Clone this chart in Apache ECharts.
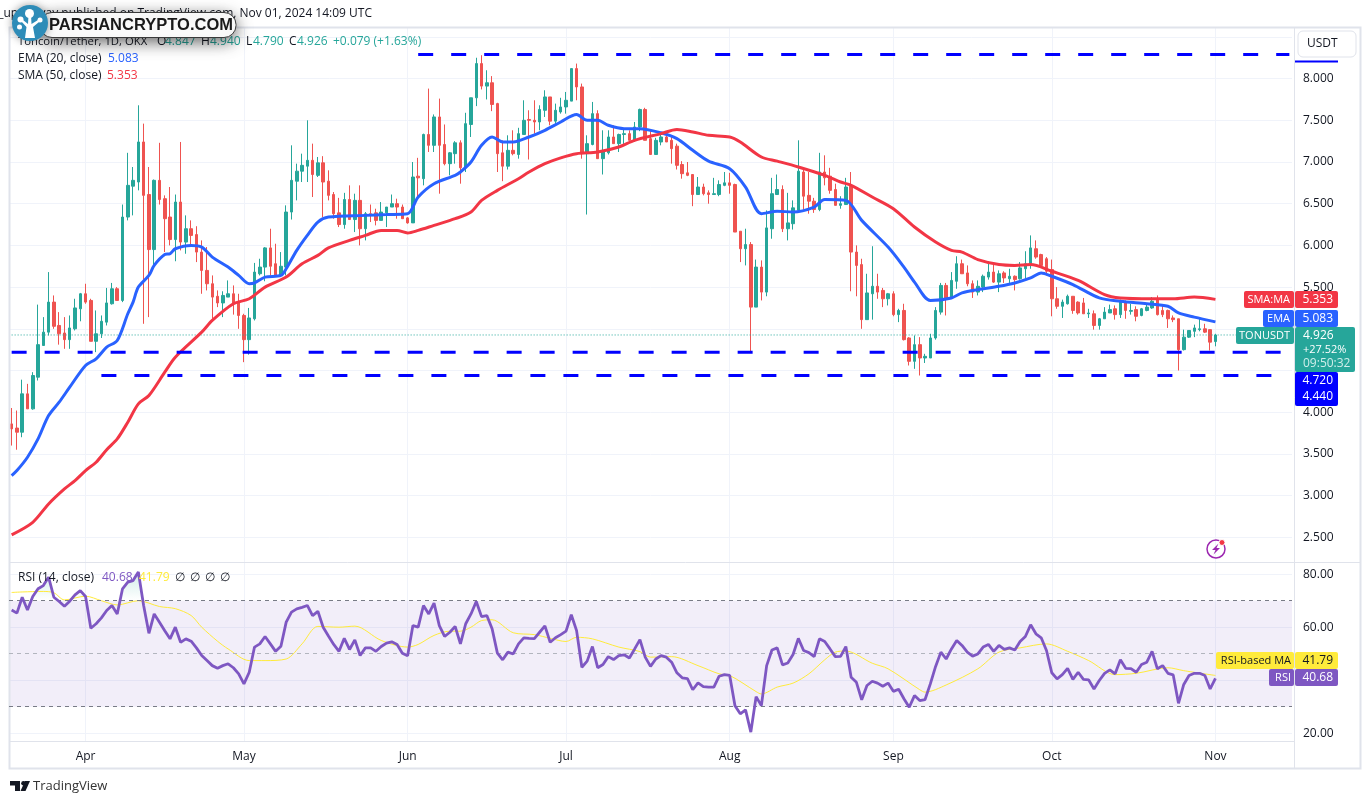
<!DOCTYPE html>
<html>
<head>
<meta charset="utf-8">
<title>TONUSDT</title>
<script src="https://cdn.jsdelivr.net/npm/echarts@6/dist/echarts.min.js"></script>
<style>
html,body{margin:0;padding:0;background:#fff;}
#main{width:1370px;height:804px;}
</style>
</head>
<body>
<div id="main"></div>
<script>
// daily candles, Mar 18 -> Nov 1 2024
var opens = [3.86,3.81,3.76,4.22,4.04,4.42,4.80,4.96,5.32,5.04,
4.95,4.87,5.00,5.24,5.42,5.34,4.85,4.94,5.08,5.30,
5.48,5.34,6.34,6.71,6.76,7.24,6.61,5.95,6.78,6.56,
6.34,6.07,6.52,6.04,6.20,6.13,5.92,5.70,5.54,5.39,
5.31,5.38,5.42,5.32,5.16,4.87,5.12,5.66,5.74,5.97,
5.78,5.64,5.74,6.40,6.77,6.89,6.95,7.02,6.84,6.99,
6.77,6.61,6.39,6.25,6.55,6.31,6.54,6.20,6.38,6.39,
6.30,6.39,6.46,6.50,6.46,6.33,6.27,6.83,6.80,7.33,
7.20,7.54,7.21,6.98,7.10,7.23,6.93,7.45,7.77,8.18,
7.91,7.95,7.70,7.11,6.95,7.14,7.09,7.33,7.51,7.50,
7.48,7.62,7.78,7.49,7.60,7.66,7.73,8.12,7.90,7.10,
7.21,7.58,7.04,7.11,7.30,7.22,7.33,7.34,7.26,7.42,
7.63,7.28,7.09,7.24,7.30,7.26,7.19,6.97,6.87,6.85,
6.61,6.70,6.63,6.61,6.61,6.72,6.75,6.73,6.17,5.96,
6.01,5.26,5.74,5.44,6.20,6.61,6.67,6.20,6.26,6.42,
6.88,6.60,6.53,6.43,6.88,6.83,6.67,6.48,6.49,6.71,
5.92,5.77,5.11,5.42,5.51,5.46,5.36,5.42,5.17,5.22,
4.89,4.61,4.81,4.65,4.65,4.89,5.20,5.52,5.37,5.57,
5.78,5.67,5.54,5.44,5.50,5.62,5.68,5.56,5.67,5.60,
5.63,5.60,5.72,5.77,5.96,5.89,5.84,5.71,5.36,5.27,
5.30,5.39,5.32,5.31,5.18,5.18,5.04,5.12,5.19,5.24,
5.17,5.32,5.21,5.23,5.16,5.22,5.25,5.36,5.22,5.22,
5.13,5.12,4.75,4.90,4.97,4.99,5.00,4.99,4.847];
var highs = [4.05,4.02,4.39,4.34,4.48,5.29,5.14,5.68,5.40,5.20,
5.14,5.16,5.36,5.43,5.54,5.36,5.22,5.16,5.49,5.55,
5.50,6.49,7.11,6.94,7.68,7.46,6.94,6.79,7.23,6.60,
6.70,6.61,7.24,6.36,6.30,6.23,6.06,5.98,5.64,5.46,
5.45,5.58,5.52,5.42,5.18,5.25,5.79,5.84,5.98,6.20,
6.02,5.92,6.48,7.20,6.98,7.10,7.50,7.22,7.06,7.07,
6.90,6.64,6.57,6.63,6.72,6.62,6.72,6.40,6.49,6.44,
6.52,6.46,6.61,6.56,6.49,6.34,7.00,7.05,7.34,7.88,
7.57,7.76,7.45,7.12,7.25,7.26,7.59,7.77,8.25,8.28,
8.10,8.03,7.71,7.26,7.32,7.38,7.41,7.74,7.62,7.74,
7.68,7.86,7.78,7.70,7.77,7.84,8.12,8.18,7.94,7.32,
7.72,7.62,7.38,7.38,7.44,7.34,7.40,7.38,7.48,7.64,
7.65,7.38,7.29,7.36,7.36,7.30,7.22,7.01,7.00,6.85,
6.82,6.74,6.66,6.81,6.78,6.88,6.87,6.74,6.17,6.20,
6.04,5.83,5.82,6.42,6.81,6.85,6.72,6.63,6.54,7.26,
6.93,6.88,6.57,7.11,7.08,6.93,6.74,6.59,6.81,6.88,
6.00,5.84,5.66,5.99,5.66,5.49,5.43,5.45,5.24,5.30,
4.90,4.92,4.90,4.70,4.94,5.26,5.55,5.55,5.68,5.87,
5.83,5.76,5.58,5.58,5.65,5.81,5.79,5.70,5.69,5.72,
5.64,5.80,5.93,6.12,6.06,5.90,5.86,5.83,5.50,5.35,
5.41,5.39,5.33,5.37,5.24,5.22,5.13,5.26,5.29,5.28,
5.35,5.34,5.30,5.27,5.25,5.29,5.38,5.40,5.29,5.23,
5.16,5.12,4.99,4.98,5.05,5.14,5.06,4.99,4.94];
var lows = [3.60,3.55,3.70,4.04,4.03,4.38,4.80,4.92,5.00,4.81,
4.76,4.76,4.98,5.09,5.30,4.85,4.72,4.89,5.04,5.29,
5.34,5.32,6.30,6.36,6.66,5.06,5.14,5.72,6.49,5.92,
6.00,5.81,5.94,5.90,6.00,5.80,5.42,5.46,5.12,5.26,
5.14,5.38,5.17,5.00,4.60,4.69,5.10,5.64,5.57,5.64,
5.64,5.62,5.64,6.31,6.54,6.76,6.76,6.58,6.82,6.34,
6.54,6.32,6.22,6.20,6.31,6.16,6.00,6.06,6.28,6.24,
6.30,6.22,6.46,6.32,6.32,6.26,6.27,6.55,6.72,7.12,
7.12,6.62,6.96,6.84,6.98,6.74,6.88,7.30,7.67,7.87,
7.75,7.61,6.88,6.77,6.91,7.08,7.04,7.33,7.03,7.34,
7.38,7.54,7.44,7.44,7.58,7.58,7.73,7.74,7.04,6.37,
7.20,7.04,6.85,7.09,7.22,7.12,7.21,7.26,7.24,7.37,
7.26,7.09,7.09,7.20,7.24,6.98,6.91,6.80,6.83,6.47,
6.61,6.60,6.50,6.61,6.59,6.71,6.62,6.16,5.80,5.76,
4.73,5.26,5.34,5.39,6.08,6.61,6.16,6.06,6.19,6.40,
6.43,6.38,6.39,6.41,6.72,6.62,6.48,6.44,6.49,5.45,
5.39,5.00,5.11,5.11,5.36,5.26,5.28,5.15,5.08,4.86,
4.56,4.52,4.44,4.59,4.65,4.87,5.17,5.16,5.36,5.48,
5.66,5.51,5.37,5.40,5.44,5.59,5.55,5.44,5.55,5.55,
5.46,5.59,5.60,5.72,5.84,5.75,5.64,5.15,5.24,5.13,
5.29,5.18,5.17,5.18,5.13,4.99,4.99,5.12,5.19,5.11,
5.13,5.12,5.17,5.09,5.15,5.21,5.24,5.16,5.14,5.01,
5.08,4.50,4.74,4.89,4.90,4.97,4.95,4.74,4.79];
var closes = [3.80,3.76,4.22,4.04,4.44,4.81,4.96,5.32,5.03,4.94,
4.87,5.01,5.25,5.42,5.32,4.85,4.94,5.09,5.31,5.48,
5.34,6.34,6.72,6.78,7.24,6.60,5.95,6.78,6.55,6.32,
6.07,6.52,6.04,6.20,6.12,5.92,5.70,5.54,5.38,5.31,
5.40,5.42,5.30,5.16,4.87,5.13,5.68,5.74,5.97,5.75,
5.64,5.75,6.40,6.78,6.89,6.96,7.02,6.85,6.99,6.76,
6.60,6.38,6.25,6.55,6.31,6.54,6.20,6.38,6.36,6.30,
6.40,6.46,6.50,6.46,6.32,6.27,6.82,6.81,7.33,7.20,
7.54,7.20,6.98,7.11,7.23,6.93,7.46,7.77,8.18,7.91,
7.95,7.69,7.10,6.95,7.14,7.10,7.34,7.50,7.50,7.48,
7.63,7.78,7.49,7.62,7.66,7.74,8.12,7.90,7.10,7.22,
7.58,7.04,7.12,7.30,7.22,7.33,7.34,7.26,7.42,7.63,
7.26,7.09,7.26,7.30,7.24,7.16,6.96,6.86,6.84,6.61,
6.70,6.62,6.61,6.62,6.73,6.75,6.72,6.16,5.96,6.01,
5.26,5.74,5.44,6.21,6.62,6.67,6.20,6.27,6.45,6.89,
6.59,6.53,6.43,6.88,6.81,6.66,6.48,6.50,6.70,5.92,
5.76,5.11,5.43,5.51,5.44,5.36,5.42,5.17,5.22,4.87,
4.61,4.81,4.65,4.67,4.89,5.22,5.52,5.37,5.58,5.78,
5.66,5.54,5.44,5.51,5.63,5.68,5.56,5.66,5.61,5.63,
5.59,5.73,5.78,5.97,5.86,5.76,5.69,5.36,5.27,5.32,
5.39,5.22,5.19,5.18,5.19,5.04,5.12,5.20,5.23,5.17,
5.32,5.22,5.22,5.15,5.24,5.26,5.33,5.17,5.17,5.12,
5.11,4.75,4.90,4.98,5.01,5.00,4.96,4.84,4.926];

// moving averages, [candle number, price] read at the bends
var emaPts = [[0,3.24],[1,3.30],[3,3.46],[5,3.68],[7,3.96],[9,4.12],[11,4.30],[14,4.56],[16,4.64],[18,4.78],[20,4.86],[22,5.18],[23,5.32],[24,5.50],[26,5.64],[27,5.76],[29,5.89],[30,5.90],[31,5.96],[34,6.00],[36,5.98],[38,5.86],[41,5.74],[43,5.64],[45,5.54],[46,5.55],[48,5.62],[51,5.64],[52,5.72],[54,5.94],[56,6.12],[58,6.28],[60,6.34],[67,6.36],[71,6.37],[75,6.38],[77,6.58],[80,6.74],[84,6.84],[85,6.88],[87,7.00],[89,7.20],[91,7.30],[93,7.24],[95,7.24],[98,7.30],[101,7.38],[104,7.48],[107,7.57],[109,7.50],[111,7.50],[113,7.44],[116,7.40],[119,7.40],[123,7.35],[126,7.28],[129,7.14],[132,7.01],[136,6.92],[139,6.70],[142,6.38],[145,6.41],[148,6.40],[152,6.46],[154,6.55],[158,6.54],[161,6.30],[166,5.98],[169,5.74],[171,5.56],[174,5.34],[178,5.37],[180,5.43],[183,5.47],[187,5.51],[190,5.55],[193,5.61],[195,5.67],[197,5.63],[201,5.53],[206,5.37],[210,5.33],[215,5.30],[219,5.27],[221,5.19],[224,5.14],[228,5.083]];
var smaPts = [[0,2.53],[4,2.68],[7,2.90],[10,3.08],[12,3.18],[14,3.30],[16,3.40],[18,3.55],[20,3.68],[22,3.88],[24,4.10],[26,4.20],[29,4.48],[31,4.66],[36,4.96],[38,5.10],[42,5.30],[45,5.36],[48,5.50],[52,5.62],[55,5.78],[58,5.88],[60,5.97],[64,6.06],[67,6.12],[70,6.18],[73,6.18],[75,6.15],[77,6.18],[80,6.24],[84,6.32],[87,6.40],[89,6.54],[92,6.66],[96,6.80],[98,6.88],[101,6.98],[104,7.05],[107,7.10],[111,7.12],[115,7.18],[118,7.26],[123,7.34],[126,7.39],[129,7.36],[132,7.32],[136,7.30],[138,7.24],[142,7.06],[145,7.01],[149,6.94],[154,6.84],[157,6.76],[159,6.72],[163,6.58],[167,6.44],[171,6.22],[175,6.04],[178,5.94],[180,5.92],[183,5.83],[187,5.77],[190,5.76],[193,5.77],[197,5.69],[202,5.58],[207,5.41],[210,5.37],[216,5.36],[220,5.36],[224,5.38],[228,5.353]];

// RSI, one value per candle
var rsiVals = [66.5,65.3,71.3,66.5,71.6,74.5,75.7,78.9,71.3,69.7,
67.9,69.8,72.2,73.8,71.6,59.6,61.3,63.5,66.3,68.2,
65.0,74.5,77.0,77.6,80.8,68.2,57.7,65.0,61.9,58.7,
55.6,60.0,54.3,55.6,54.7,52.2,49.3,47.4,45.5,44.5,
45.5,46.2,44.7,42.4,38.6,43.0,52.5,53.7,56.5,53.7,
50.9,52.8,61.9,65.7,66.9,67.5,68.2,64.4,66.0,60.0,
56.7,53.5,50.9,55.8,51.6,55.2,49.3,52.2,52.2,50.9,
52.7,54.0,54.5,53.5,50.2,49.2,60.6,60.0,68.2,65.0,
69.1,60.6,56.5,58.1,60.3,53.7,61.3,65.0,69.7,64.0,
64.4,59.4,50.2,47.7,50.6,49.9,53.7,56.0,55.8,55.7,
58.1,60.5,54.3,56.0,57.2,58.5,64.7,58.7,44.9,47.2,
52.7,44.7,45.9,48.9,47.8,49.3,49.6,48.4,51.8,55.3,
48.7,45.2,48.0,49.3,48.7,46.8,42.8,40.9,40.6,36.4,
39.0,37.6,37.4,37.4,41.5,42.1,41.8,30.4,27.3,28.8,
20.4,33.8,30.4,45.5,51.4,52.2,45.8,46.5,49.7,55.8,
51.2,50.4,48.9,55.6,54.6,51.8,48.9,49.0,52.7,41.1,
39.2,32.6,38.0,39.6,38.9,37.7,38.9,35.8,36.6,33.0,
29.8,34.2,32.3,32.7,38.6,45.2,50.6,48.0,51.8,55.0,
53.1,50.6,49.1,49.9,52.5,53.5,50.9,53.1,51.6,52.2,
51.4,54.6,56.5,60.9,57.5,56.0,51.2,42.8,40.5,42.1,
44.5,40.3,43.0,40.3,40.1,36.7,39.9,42.6,43.9,42.4,
47.7,44.5,44.4,43.0,45.9,46.8,50.9,44.3,45.5,42.6,
42.0,31.3,38.4,41.8,42.6,42.6,41.8,36.7,40.68];
var rsiMaPts = [[0,73.1],[2,73.3],[6,73.5],[8,73.0],[10,70.3],[14,71.7],[17,70.0],[20,68.4],[24,70.0],[28,67.8],[31,67.0],[34,64.4],[36,60.0],[39,54.7],[41,51.8],[45,47.4],[48,47.4],[52,48.0],[55,53.7],[58,60.3],[62,60.0],[65,60.4],[70,55.0],[75,52.5],[77,53.5],[80,56.9],[83,58.5],[85,58.5],[87,60.0],[89,62.5],[91,62.8],[95,57.9],[99,57.2],[102,55.8],[105,54.6],[107,56.2],[110,55.6],[115,52.5],[119,50.8],[121,48.7],[125,48.9],[130,45.5],[134,42.4],[136,41.8],[141,35.7],[142,34.8],[145,37.4],[148,38.9],[151,42.4],[154,47.7],[156,50.6],[158,51.0],[163,46.4],[166,44.3],[172,36.4],[173,35.5],[177,38.2],[183,44.3],[187,50.6],[191,52.2],[196,53.7],[200,50.9],[204,47.4],[209,42.1],[213,42.6],[219,44.7],[222,43.6],[228,41.79]];

var levels = [[77,8.288],[0,4.72],[17,4.44]];
var lastPrice = 4.926;
var rsiBands = [70,50,30];
var monthNames = ['Jan','Feb','Mar','Apr','May','Jun','Jul','Aug','Sep','Oct','Nov','Dec'];

// Mar 18 .. Nov 15, the last two weeks stay empty
var dates = [];
for (var i = 0; i < 243; i++) {
    dates.push(new Date(Date.UTC(2024, 2, 18 + i)));
}
var categories = dates.map(function(d){ return d.toISOString().slice(0,10); });
var isFirst = function(idx){ return dates[idx].getUTCDate() === 1; };

var up = '#26a69a', down = '#ef5350', blue = '#2962ff', red = '#f23645', purple = '#7e57c2', yellow = '#ffeb3b';
var gridLine = '#f0f3fa', frame = '#e0e3eb', ink = '#131722';
var font = '"Open Sans", sans-serif';

var candles = opens.map(function(o,i){ return [o, closes[i], lows[i], highs[i]]; });
var rsiOver = rsiVals.map(function(v,i){ return [i, Math.max(v,70)]; });

function txt(x,y,s,color,size,align,weight){
    return {type:'text', z:200, x:x, y:y, silent:true, style:{text:s, fill:color||ink, font:(weight||'normal')+' '+(size||12)+'px '+font, textAlign:align||'left', textVerticalAlign:'middle'}};
}
function box(x,y,w,h,color,r){
    return {type:'rect', z:190, silent:true, shape:{x:x,y:y,width:w,height:h,r:r||0}, style:{fill:color}};
}
function hline(x1,x2,y){
    return {type:'line', z:5, silent:true, shape:{x1:x1,y1:y,x2:x2,y2:y}, style:{stroke:frame,lineWidth:1}};
}
function vline(x,y1,y2){
    return {type:'line', z:5, silent:true, shape:{x1:x,y1:y1,x2:x,y2:y2}, style:{stroke:frame,lineWidth:1}};
}

var graphics = [
    // frame of the panes
    {type:'rect', z:5, silent:true, shape:{x:9.5,y:27.5,width:1351,height:741}, style:{fill:'none',stroke:frame,lineWidth:2}},
    vline(1294.5,27,768), hline(10,1361,562.5), hline(10,1294,741.5),
    // legend
    txt(372,14,'rakesh_upadhyay published on TradingView.com, Nov 01, 2024 14:09 UTC','#131722',12,'right'),
    txt(18,42,'Toncoin/Tether, 1D, OKX',ink,11.3),
    txt(157,42,'O'), txt(165,42,'4.847',up), txt(201,42,'H'), txt(210,42,'4.940',up),
    txt(246,42,'L'), txt(253,42,'4.790',up), txt(289,42,'C'), txt(297,42,'4.926',up),
    txt(333,42,'+0.079 (+1.63%)',up),
    txt(18,59,'EMA (20, close)'), txt(108,59,'5.083',blue),
    txt(18,76,'SMA (50, close)'), txt(107,76,'5.353',red),
    txt(18,578,'RSI (14, close)'), txt(102,578,'40.68',purple), txt(139,578,'41.79',yellow),
    txt(175,578,'∅'), txt(190,578,'∅'), txt(205,578,'∅'), txt(220,578,'∅'),
    // unit box
    box(1295,60.5,43,2,'#0000ff'),
    {type:'rect', z:195, silent:true, shape:{x:1298,y:31,width:58,height:26,r:5}, style:{fill:'#fff',stroke:frame,lineWidth:1}},
    txt(1307,44,'USDT',ink,12),
    // price tags
    box(1244,291,50,17,red,2), box(1295,291,43,17,red,2),
    txt(1290,299.5,'SMA:MA','#fff',11,'right'), txt(1333,299.5,'5.353','#fff',12,'right'),
    box(1263,310,31,17,blue,2), box(1295,310,43,17,blue,2),
    txt(1290,318.5,'EMA','#fff',11,'right'), txt(1333,318.5,'5.083','#fff',12,'right'),
    box(1236,327,58,17,up,2), box(1295,327,60,45,up,2),
    txt(1290,335.5,'TONUSDT','#fff',11,'right'), txt(1303,335.5,'4.926','#fff',12),
    txt(1303,350,'+27.52%','#fff',11), txt(1303,364,'09:50:32','#cfeeea',12),
    box(1295,372,43,34,'#0000ff',2),
    txt(1333,380.5,'4.720','#fff',12,'right'), txt(1333,397,'4.440','#fff',12,'right'),
    box(1216,652,78,17,yellow,2), box(1295,652,43,17,yellow,2),
    txt(1291,660.5,'RSI-based MA',ink,11,'right'), txt(1333,660.5,'41.79',ink,12,'right'),
    box(1269,669,25,17,purple,2), box(1295,669,43,17,purple,2),
    txt(1291,677.5,'RSI','#fff',11,'right'), txt(1333,677.5,'40.68','#fff',12,'right'),
    // bolt icon
    {type:'circle', z:200, silent:true, shape:{cx:1216,cy:549,r:9}, style:{fill:'none',stroke:'#9c27b0',lineWidth:1.5}},
    {type:'polygon', z:200, silent:true, shape:{points:[[1218.5,543.5],[1212,550],[1215.5,550],[1213.5,554.5],[1220,548],[1216.5,548]]}, style:{fill:'#9c27b0'}},
    {type:'circle', z:201, silent:true, shape:{cx:1222,cy:542.5,r:3}, style:{fill:'#f23645',stroke:'#fff',lineWidth:1}},
    // TradingView mark
    {type:'polygon', z:200, silent:true, shape:{points:[[10,781],[20,781],[20,791],[15,791],[15,785.5],[10,785.5]]}, style:{fill:ink}},
    {type:'circle', z:200, silent:true, shape:{cx:23.5,cy:783.3,r:2.3}, style:{fill:ink}},
    {type:'polygon', z:200, silent:true, shape:{points:[[30,781],[25.5,791],[20.5,791],[25,781]]}, style:{fill:ink}},
    txt(33,786.5,'TradingView','#333',13),
    // watermark pill
    {type:'rect', z:300, silent:true, shape:{x:40,y:12.5,width:196,height:25,r:12}, style:{fill:'#fff',stroke:'#3a3a3a',lineWidth:1,shadowBlur:16,shadowColor:'rgba(0,0,0,0.6)',shadowOffsetY:4}},
    {type:'text', z:301, x:49, y:25.5, silent:true, style:{text:'PARSIANCRYPTO.COM', fill:'#1a1a1a', font:'bold 16.5px "Liberation Sans", sans-serif', textAlign:'left', textVerticalAlign:'middle'}},
    {type:'circle', z:302, silent:true, shape:{cx:30,cy:23,r:18}, style:{fill:'#2e8cb8',shadowBlur:8,shadowColor:'rgba(0,0,0,0.4)'}},
    {type:'polygon', z:303, silent:true, shape:{points:[[25,38],[26.5,27],[21,21],[23,20],[28,24],[28.5,15],[31,15],[31.5,24],[38,20],[39,22],[33,27],[35,38]]}, style:{fill:'#fff'}},
    {type:'circle', z:303, silent:true, shape:{cx:29.5,cy:13.5,r:4.5}, style:{fill:'#fff'}},
    {type:'circle', z:303, silent:true, shape:{cx:20.5,cy:19.5,r:3}, style:{fill:'#fff'}},
    {type:'circle', z:303, silent:true, shape:{cx:40,cy:20,r:2.5}, style:{fill:'#fff'}},
    {type:'circle', z:303, silent:true, shape:{cx:19.5,cy:27,r:2.5}, style:{fill:'#fff'}}
];

var series = [
    {name:'TONUSDT', type:'candlestick', xAxisIndex:0, yAxisIndex:0, barWidth:3, data:candles, z:3,
     itemStyle:{color:up, color0:down, borderColor:up, borderColor0:down, borderWidth:1}},
    {name:'EMA', type:'line', xAxisIndex:0, yAxisIndex:0, data:emaPts, smooth:0.3, showSymbol:false, z:5, lineStyle:{color:blue,width:3}},
    {name:'SMA', type:'line', xAxisIndex:0, yAxisIndex:0, data:smaPts, smooth:0.3, showSymbol:false, z:6, lineStyle:{color:red,width:3}},
    {name:'last', type:'line', xAxisIndex:0, yAxisIndex:0, data:[[0,lastPrice],[242,lastPrice]], showSymbol:false, z:4, lineStyle:{color:up,width:1,type:[1,2]}},
    {name:'RSI over', type:'line', xAxisIndex:1, yAxisIndex:1, data:rsiOver, showSymbol:false, z:3, clip:false, lineStyle:{width:0},
     areaStyle:{origin:70, color:new echarts.graphic.LinearGradient(0,0,0,1,[{offset:0,color:'rgba(38,166,154,0.3)'},{offset:1,color:'rgba(38,166,154,0)'}])}},
    {name:'RSI', type:'line', xAxisIndex:1, yAxisIndex:1, data:rsiVals, showSymbol:false, z:5, clip:false, lineStyle:{color:purple,width:2.8},
     markArea:{silent:true, itemStyle:{color:'rgba(126,87,194,0.1)'}, data:[[{yAxis:rsiBands[2]},{yAxis:rsiBands[0]}]]},
     markLine:{silent:true, symbol:'none', label:{show:false}, lineStyle:{color:'#787b86',width:1,type:[4,4]},
        data:[{yAxis:rsiBands[0]},{yAxis:rsiBands[1],lineStyle:{color:'#b2b5be'}},{yAxis:rsiBands[2]}]}},
    {name:'RSI MA', type:'line', xAxisIndex:1, yAxisIndex:1, data:rsiMaPts, smooth:0.3, showSymbol:false, z:4, lineStyle:{color:yellow,width:1}}
];
levels.forEach(function(l,n){
    series.push({name:'level'+n, type:'line', xAxisIndex:0, yAxisIndex:0, data:[[l[0],l[1]],[242,l[1]]], showSymbol:false, z:7, lineStyle:{color:'#0000ff',width:3,type:[15,18]}});
});

var chart = echarts.init(document.getElementById('main'));
chart.setOption({
    animation:false,
    backgroundColor:'#fff',
    textStyle:{fontFamily:font},
    grid:[
        {left:9, width:1283, top:36.9, height:500.4},
        {left:9, width:1283, top:574.2, height:159},
        {left:11.64, width:1277.76, top:27, height:714.7}
    ],
    xAxis:[
        {type:'category', gridIndex:0, data:categories, show:false},
        {type:'category', gridIndex:1, data:categories, show:false},
        {type:'category', gridIndex:2, data:categories, boundaryGap:false,
         axisLine:{show:false}, axisTick:{show:false},
         axisLabel:{interval:function(idx){ return isFirst(idx); }, margin:9, color:ink, fontSize:12, hideOverlap:false,
            formatter:function(v){ return monthNames[parseInt(v.slice(5,7),10)-1]; }},
         splitLine:{show:true, interval:function(idx){ return isFirst(idx); }, lineStyle:{color:gridLine,width:1}}}
    ],
    yAxis:[
        {type:'value', gridIndex:0, position:'right', min:2.5, max:8.5, interval:0.5,
         axisLine:{show:false}, axisTick:{show:false},
         axisLabel:{margin:11, color:ink, fontSize:12, showMaxLabel:false, formatter:function(v){ return v.toFixed(3); }},
         splitLine:{show:true, lineStyle:{color:gridLine,width:1}}},
        {type:'value', gridIndex:1, position:'right', min:20, max:80, interval:20,
         axisLine:{show:false}, axisTick:{show:false},
         axisLabel:{margin:11, color:ink, fontSize:12, formatter:function(v){ return v.toFixed(2); }},
         splitLine:{show:true, lineStyle:{color:gridLine,width:1}}},
        {type:'value', gridIndex:2, show:false, splitLine:{show:false}}
    ],
    series:series,
    graphic:graphics
});
</script>
</body>
</html>
